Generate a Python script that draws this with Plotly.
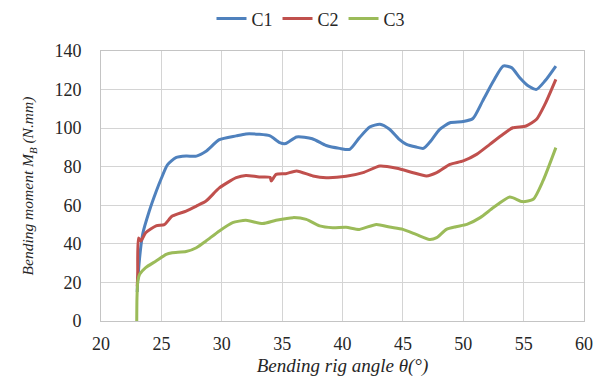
import plotly.graph_objects as go

# C1 (blue)
c1_x = [23.0, 23.05, 23.45, 24.0, 24.56, 25.0, 25.5, 26.2, 27.05, 27.9, 28.7, 29.8, 31.2, 32.0, 33.1, 34.0, 34.8, 35.3, 36.2, 37.5, 38.65,
        39.76, 40.6, 41.4, 42.25, 43.1, 43.9, 44.7, 45.3, 46.1, 46.7, 47.2, 48.05, 48.9, 50.0, 50.8, 51.6, 52.5, 53.3, 54.0, 54.7, 55.4, 56.07, 56.76, 57.67]
c1_y = [15, 22, 45, 57, 67, 74, 81, 84.7, 85.5, 85.5, 88, 94, 96, 97, 96.8, 96, 92.5, 92, 95.4, 94.5, 91,
        89.5, 89, 95, 100.6, 102, 99.4, 94.2, 91.6, 90.2, 89.5, 92.5, 99.4, 102.8, 103.4, 105, 114, 124.4, 132.2, 131.4, 126, 121.8, 120.1, 124.4, 132.2]

# C2 (red)
c2_x = [23.0, 23.04, 23.1, 23.3, 23.7, 24.56, 25.25, 25.9, 27.05, 27.9, 28.7, 29.8, 31.2, 32.0, 33.1, 34.0, 34.1, 34.5, 35.3, 36.2, 37.55, 38.65,
        40.3, 41.7, 43.1, 44.5, 45.85, 46.95, 47.8, 48.9, 50.0, 51.1, 52.2, 53.3, 54.1, 55.2, 56.07, 56.76, 57.67]
c2_y = [18, 24, 43, 41.5, 45.8, 49.3, 50, 54.4, 57, 59.6, 62.2, 69, 74.3, 75.5, 74.7, 74.5, 72.6, 76, 76.4, 77.8, 75.2, 74.3,
        75.0, 76.9, 80.4, 79.2, 76.9, 75.2, 76.9, 81.2, 83, 86.4, 91.6, 96.8, 100.2, 101.1, 104.6, 112.3, 125.3]

# C3 (green)
c3_x = [22.96, 22.98, 23.05, 23.2, 23.7, 24.56, 25.4, 25.9, 27.05, 27.9, 28.7, 29.8, 30.9, 32.0, 33.4, 34.5, 35.9, 37.0, 38.1, 39.2, 40.3,
        41.4, 42.8, 43.9, 45.0, 46.1, 47.2, 47.8, 48.6, 49.4, 50.3, 51.4, 52.5, 53.85, 54.9, 55.8, 56.6, 57.67]
c3_y = [0, 12, 20.7, 24.2, 27.7, 31.1, 34.6, 35.4, 36, 38, 41.5, 46.7, 51, 52.2, 50.5, 52.2, 53.6, 52.7, 49.3, 48.4, 48.6,
        47.5, 50.1, 48.7, 47.5, 44.9, 42.3, 43.2, 47.5, 48.9, 50.1, 53.6, 58.8, 64.3, 61.9, 63.1, 72.6, 89.9]

names = ["C1", "C2", "C3"]
colors = ["#4F81BD", "#C0504D", "#9BBB59"]
x_ticks = [20, 25, 30, 35, 40, 45, 50, 55, 60]
y_ticks = [0, 20, 40, 60, 80, 100, 120, 140]

fig = go.Figure()
for n, xs, ys, c in zip(names, [c1_x, c2_x, c3_x], [c1_y, c2_y, c3_y], colors):
    fig.add_trace(go.Scatter(x=xs, y=ys, mode="lines", name=n,
                             line=dict(color=c, width=3, shape="spline", smoothing=0.6)))

font_fam = "Liberation Serif, DejaVu Serif, serif"
fig.update_layout(
    width=606, height=387,
    margin=dict(l=93, r=30, t=43, b=74, autoexpand=False),
    paper_bgcolor="white", plot_bgcolor="white",
    font=dict(family=font_fam, size=18, color="#262626"),
    legend=dict(orientation="h", x=0.5, xanchor="center", xref="container",
                y=0.972, yanchor="middle", yref="container",
                font=dict(size=18, color="#262626"), tracegroupgap=0),
    xaxis=dict(range=[20, 60], tickvals=x_ticks, showgrid=True, gridcolor="#D4D4D4", gridwidth=1,
               showline=True, linecolor="#C4C4C4", mirror=True, zeroline=False, ticks="",
               ticklabelstandoff=6,
               title=dict(text="<i>Bending rig angle θ(°)</i>", font=dict(size=19), standoff=6)),
    yaxis=dict(range=[0, 140], tickvals=y_ticks, showgrid=True, gridcolor="#D4D4D4", gridwidth=1,
               showline=True, linecolor="#C4C4C4", mirror=True, zeroline=False, ticks="",
               ticklabelstandoff=15,
               title=dict(text="<i>Bending moment M<sub>B</sub> (N.mm)</i>", font=dict(size=15.5), standoff=16)),
)
fig.write_html("out.html")
